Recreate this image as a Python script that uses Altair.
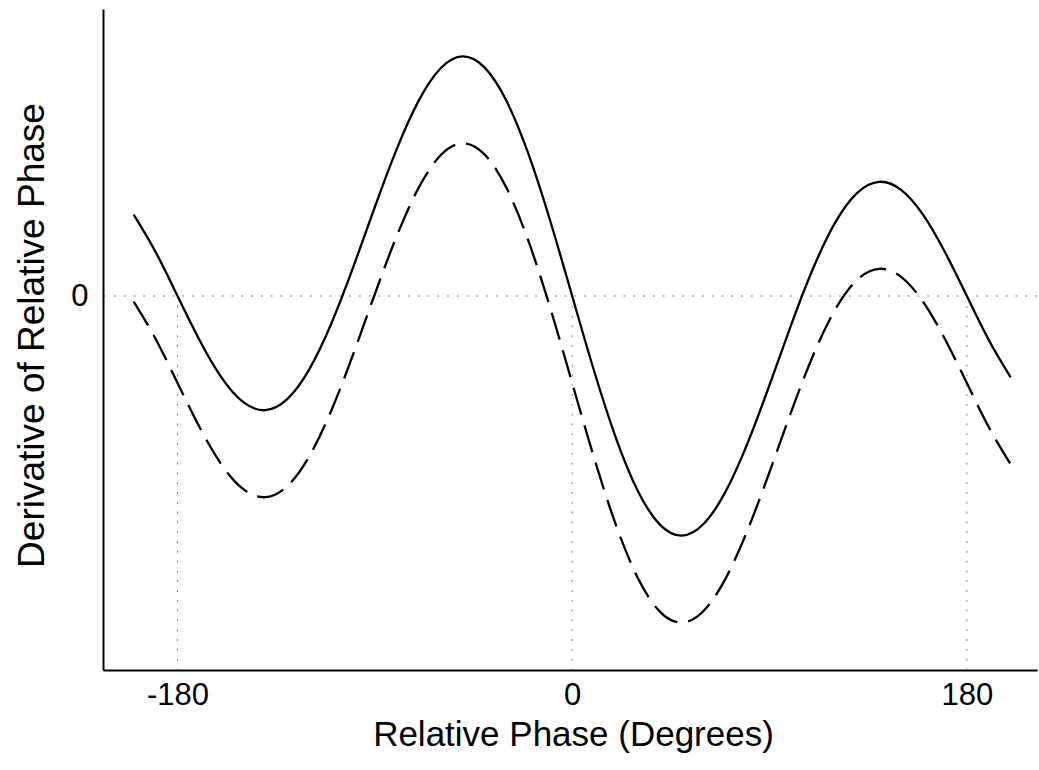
import altair as alt
import pandas as pd

# Relative phase (degrees) at which the curves were read
phase_deg = [-200, -190, -180, -170, -160, -150, -140, -130, -120, -110, -100,
             -90, -80, -70, -60, -50, -40, -30, -20, -10, 0,
             10, 20, 30, 40, 50, 60, 70, 80, 90, 100,
             110, 120, 130, 140, 150, 160, 170, 180, 190, 200]

# Solid curve (arbitrary units, 0 = stable/unstable points)
solid_vals = [81.4, 44.0, 0.0, -44.0, -81.4, -106.2, -114.2, -103.2, -73.6, -28.2, 28.1,
              89.0, 147.1, 195.4, 227.8, 239.6, 228.6, 195.2, 142.3, 75.0, 0.0,
              -75.0, -142.3, -195.2, -228.6, -239.6, -227.8, -195.4, -147.1, -89.0, -28.1,
              28.2, 73.6, 103.2, 114.2, 106.2, 81.4, 44.0, 0.0, -44.0, -81.4]

# Dashed curve (same units)
dashed_vals = [-5.6, -43.0, -87.0, -131.0, -168.4, -193.2, -201.2, -190.2, -160.6, -115.2, -58.9,
               2.0, 60.1, 108.4, 140.8, 152.6, 141.6, 108.2, 55.3, -12.0, -87.0,
               -162.0, -229.3, -282.2, -315.6, -326.6, -314.8, -282.4, -234.1, -176.0, -115.1,
               -58.8, -13.4, 16.2, 27.2, 19.2, -5.6, -43.0, -87.0, -131.0, -168.4]

x_ticks = [-180, 0, 180]
y_ticks = [0]
ref_x = [-180, 0, 180]

X_DOMAIN = [-214, 212]
Y_DOMAIN = [-374, 287]

FONT = "Liberation Sans"

solid_df = pd.DataFrame({"phase": phase_deg, "value": solid_vals})
dashed_df = pd.DataFrame({"phase": phase_deg, "value": dashed_vals})
vref_df = pd.DataFrame({"phase": ref_x, "value": [0] * len(ref_x),
                        "value2": [Y_DOMAIN[0]] * len(ref_x)})
href_df = pd.DataFrame({"value": [0]})

xscale = alt.Scale(domain=X_DOMAIN, nice=False, zero=False)
yscale = alt.Scale(domain=Y_DOMAIN, nice=False, zero=False)

xaxis = alt.Axis(values=x_ticks, title="Relative Phase (Degrees)", ticks=False, grid=False,
                 labelExpr="datum.value + ''",
                 labelFont=FONT, titleFont=FONT, labelFontSize=31, titleFontSize=35,
                 labelPadding=10, titleX=470, titleY=75, titleBaseline="alphabetic",
                 titleAlign="center", titleFontWeight="normal", domainColor="black",
                 domainWidth=2, labelColor="black", titleColor="black")
yaxis = alt.Axis(values=y_ticks, title="Derivative of Relative Phase", ticks=False, grid=False,
                 labelExpr="datum.value + ''",
                 labelFont=FONT, titleFont=FONT, labelFontSize=31, titleFontSize=37,
                 labelPadding=15, titleX=-60, titleY=326, titleBaseline="alphabetic",
                 titleAlign="center", titleAngle=270, titleFontWeight="normal",
                 domainColor="black", domainWidth=2, labelColor="black", titleColor="black")

X = alt.X("phase:Q", scale=xscale, axis=xaxis)
Y = alt.Y("value:Q", scale=yscale, axis=yaxis)

dot_style = dict(color="#808080", strokeWidth=1, strokeDash=[2, 7.8])

href = alt.Chart(href_df).mark_rule(**dot_style).encode(y=Y)
vref = alt.Chart(vref_df).mark_rule(**dot_style).encode(x=X, y=Y, y2="value2:Q")

solid = alt.Chart(solid_df).mark_line(color="black", strokeWidth=2.3,
                                      interpolate="natural").encode(x=X, y=Y)
dashed = alt.Chart(dashed_df).mark_line(color="black", strokeWidth=2.3, strokeDash=[28, 11],
                                        interpolate="natural").encode(x=X, y=Y)

chart = alt.layer(href, vref, solid, dashed).properties(
    width=934, height=661,
    autosize=alt.AutoSizeParams(type="none"),
    padding={"left": 103, "top": 9, "right": 2, "bottom": 100},
    background="white",
).configure_view(stroke=None)

chart.save("out.html", embed_options={"renderer": "svg", "actions": False})
